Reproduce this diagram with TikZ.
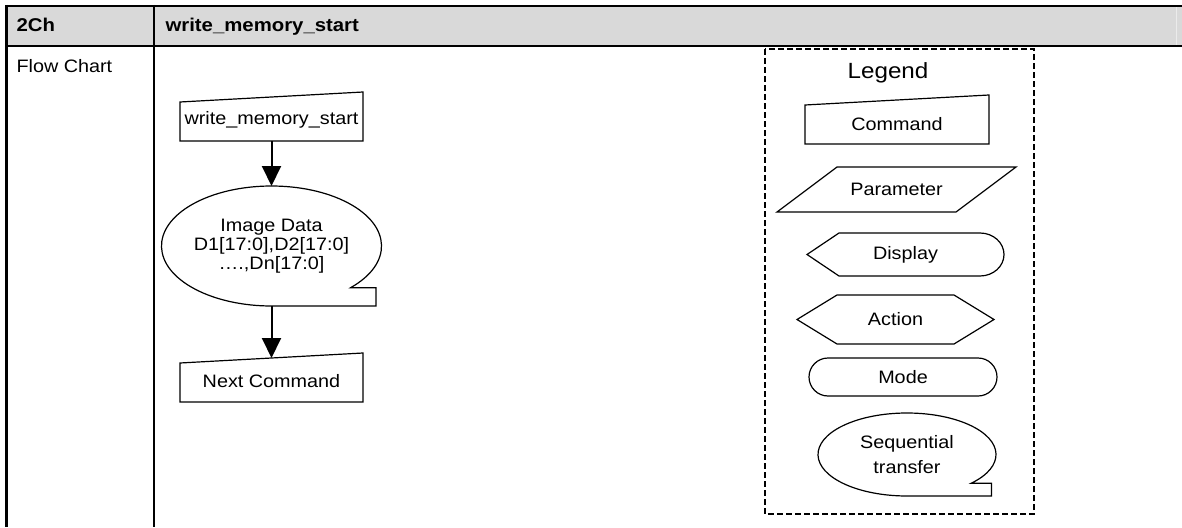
\documentclass[tikz,border=0pt]{standalone}
\usepackage{fontspec}
\setmainfont{Liberation Sans}[FakeStretch=1.1]
\usepackage{tikz}
\usetikzlibrary{arrows.meta, positioning, shapes.geometric}

\definecolor{headgray}{HTML}{D9D9D9}

\begin{document}
\begin{tikzpicture}[
        x=1pt, y=-1pt,
        font=\fontsize{18}{19}\selectfont,
        tableline/.style={line width=2.2pt},
        outline/.style={line width=1.2pt, line join=miter},
        cmdbox/.style={
            minimum width=183pt,
            minimum height=49pt,
            inner sep=0pt, outer sep=0pt,
            text height=24pt, text depth=4pt,
            append after command={\pgfextra{
                \draw[outline] ([yshift=-10pt]\tikzlastnode.north west) -- (\tikzlastnode.north east)
                    -- (\tikzlastnode.south east) -- (\tikzlastnode.south west) -- cycle;}}
        },
        seqbox/.style n args={2}{
            ellipse,
            minimum width=2*#1,
            minimum height=2*#2,
            inner sep=0pt, outer sep=0pt,
            align=center,
            append after command={\pgfextra{
                \draw[outline] ([shift={(-44:#1 and #2)}]\tikzlastnode.center)
                    arc[start angle=-44, end angle=270, x radius=#1, y radius=#2]
                    -- ++({0.95*#1},0pt) -- ++(0pt,{(1-sin(44))*#2}) -- cycle;}}
        },
        parbox/.style={
            minimum width=239pt,
            minimum height=45pt,
            inner sep=0pt, outer sep=0pt,
            append after command={\pgfextra{
                \draw[outline] (\tikzlastnode.south west) -- ([xshift=60pt]\tikzlastnode.north west)
                    -- (\tikzlastnode.north east) -- ([xshift=-60pt]\tikzlastnode.south east) -- cycle;}}
        },
        dispbox/.style={
            minimum width=197pt,
            minimum height=43pt,
            inner sep=0pt, outer sep=0pt,
            append after command={\pgfextra{
                \draw[outline] (\tikzlastnode.west) -- ([xshift=32pt]\tikzlastnode.north west)
                    -- ([xshift=-24pt]\tikzlastnode.north east)
                    arc[start angle=90, end angle=-90, x radius=24pt, y radius=21.5pt]
                    -- ([xshift=32pt]\tikzlastnode.south west) -- cycle;}}
        },
        actbox/.style={
            minimum width=197pt,
            minimum height=49pt,
            inner sep=0pt, outer sep=0pt,
            append after command={\pgfextra{
                \draw[outline] (\tikzlastnode.west) -- ([xshift=40pt]\tikzlastnode.north west)
                    -- ([xshift=-40pt]\tikzlastnode.north east) -- (\tikzlastnode.east)
                    -- ([xshift=-40pt]\tikzlastnode.south east) -- ([xshift=40pt]\tikzlastnode.south west) -- cycle;}}
        },
        modebox/.style={
            draw, line width=1.2pt,
            rounded corners=19pt,
            minimum width=188pt,
            minimum height=38pt,
            inner sep=0pt
        },
        flow/.style={
            line width=2pt,
            -{Triangle[width=19pt, length=20pt]}
        },
        legendframe/.style={
            line width=1.3pt,
            dash pattern=on 6pt off 3pt
        }
    ]

    \useasboundingbox (0,0) rectangle (1182,527);

    % Table
    \fill[headgray] (6,6) rectangle (1182,46);
    \draw[white!92!black, line width=0.8pt] (1176,7) -- (1176,45);
    \draw[tableline] (5,6) -- (1182,6);
    \draw[tableline] (5,46) -- (1182,46);
    \draw[tableline] (6.5,5) -- (6.5,527);
    \draw[tableline] (154,5) -- (154,527);

    \node (chan) [anchor=base west, font=\fontsize{18.5}{20}\selectfont\bfseries] at (13,32) {2Ch};
    \node (title) [anchor=base west, font=\fontsize{18.5}{20}\selectfont\bfseries] at (162,32) {write\_memory\_start};
    \node (kind) [anchor=base west] at (13,73) {Flow Chart};

    % Flow chart
    \node (start) [cmdbox, text height=19pt] at (271.5,116.5) {write\_memory\_start};
    \node (data) [seqbox={110pt}{60pt}, below=45pt of start, font=\fontsize{18}{19}\selectfont]
        {Image Data\\D1[17:0],D2[17:0]\\….,Dn[17:0]};
    \node (next) [cmdbox, below=47pt of data] {Next Command};

    \draw [flow] (start.south) -- (data.north);
    \draw [flow] (data.south) -- ([yshift=-5pt]next.north);

    % Legend
    \draw[legendframe] (765,49) rectangle (1034,514);
    \node (legend) [anchor=base, font=\fontsize{22}{24}\selectfont] at (888,78) {Legend};

    \node (lgcmd) [cmdbox, minimum width=184pt, text height=26pt] at (897,119.5) {Command};
    \node (lgpar) [parbox] at (896.5,189.5) {Parameter};
    \node (lgdisp) [dispbox] at (905.5,254.5) {Display};
    \node (lgact) [actbox] at (895.5,319.5) {Action};
    \node (lgmode) [modebox] at (903,377) {Mode};
    \node (lgseq) [seqbox={89pt}{41.5pt}, font=\fontsize{18}{25}\selectfont] at (907,454.5) {Sequential\\transfer};

\end{tikzpicture}
\end{document}
